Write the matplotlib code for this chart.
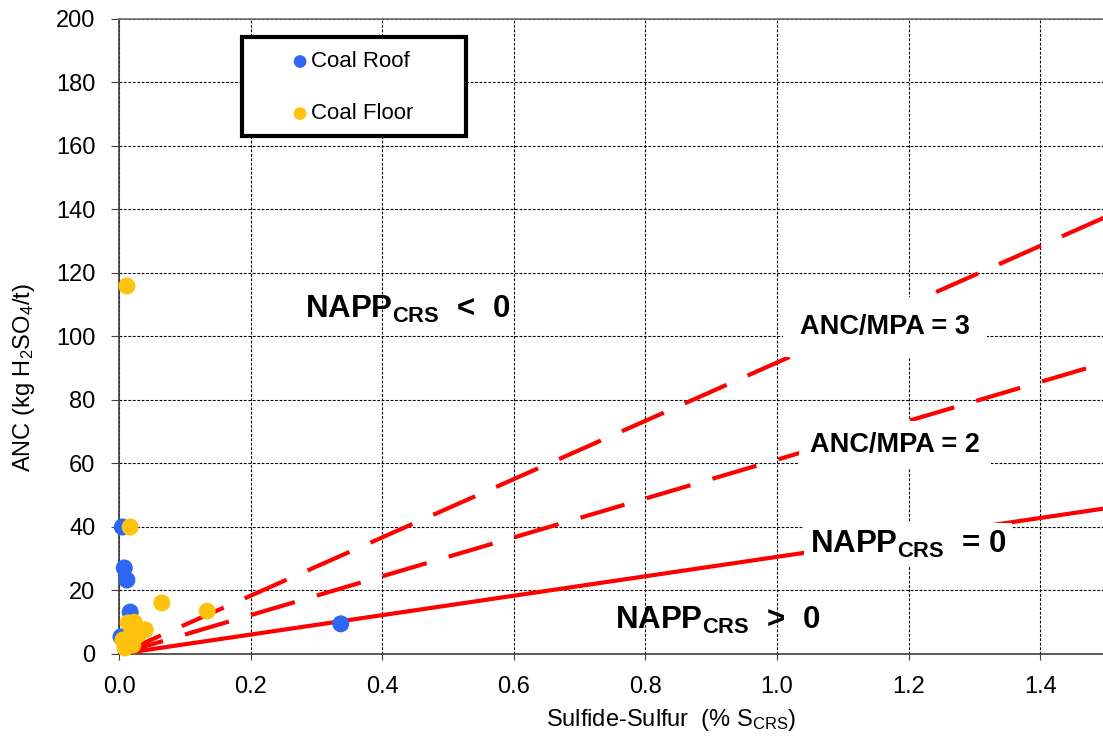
import numpy as np
import matplotlib
matplotlib.use("Agg")
import matplotlib.pyplot as plt
from matplotlib.patches import Rectangle

plt.rcParams['font.family'] = ['Liberation Sans', 'DejaVu Sans']
plt.rcParams['mathtext.fontset'] = 'custom'
plt.rcParams['mathtext.rm'] = 'Liberation Sans'
plt.rcParams['mathtext.it'] = 'Liberation Sans:italic'
plt.rcParams['mathtext.bf'] = 'Liberation Sans:bold'
plt.rcParams['mathtext.default'] = 'regular'

# ---- data ----
roof_S = [0.337, 0.005, 0.008, 0.012, 0.017, 0.003, 0.010]
roof_ANC = [9.5, 40.0, 27.1, 23.3, 13.2, 5.4, 3.0]

floor_S = [0.012, 0.017, 0.065, 0.134, 0.014, 0.040, 0.006, 0.021, 0.009, 0.029, 0.020, 0.023]
floor_ANC = [115.9, 40.0, 16.1, 13.5, 9.8, 7.6, 4.4, 2.8, 1.9, 6.0, 7.6, 10.0]

mpa_factor = 30.6          # kg H2SO4/t per % S
ratios = [1, 2, 3]         # ANC/MPA lines
line_S = [0.0, 1.5]

xticks = [0.0, 0.2, 0.4, 0.6, 0.8, 1.0, 1.2, 1.4]
yticks = list(range(0, 201, 20))

fig = plt.figure(figsize=(11.03, 7.45), dpi=100)
ax = fig.add_axes([0.10789, 0.12215, 0.89483, 0.85235])

ax.set_xlim(0, 1.5)
ax.set_ylim(0, 200)
ax.set_xticks(xticks)
ax.set_yticks(yticks)
ax.set_xticklabels([f"{t:.1f}" for t in xticks])
ax.grid(True, color='black', linestyle=(0, (2.5, 1.5)), linewidth=0.8)
ax.set_axisbelow(True)

for sp in ax.spines.values():
    sp.set_color('#404040')
    sp.set_linewidth(1.2)
ax.spines['top'].set_color('#707070')

ax.tick_params(axis='both', labelsize=17, direction='out', color='#404040')
ax.tick_params(axis='x', length=4, pad=12)
ax.tick_params(axis='y', length=6, pad=11)

# reference lines
styles = {1: '-', 2: (0, (11, 5.5)), 3: (0, (11, 5.5))}
for r in ratios:
    ys = [r * mpa_factor * s for s in line_S]
    ax.plot(line_S, ys, color='#FF0000', lw=3, linestyle=styles[r], zorder=3,
            solid_capstyle='butt', dash_capstyle='butt')

# data
ax.scatter(roof_S, roof_ANC, s=150, color='#2F66F2', edgecolors='none', zorder=4,
           label='Coal Roof', clip_on=False)
ax.scatter(floor_S, floor_ANC, s=150, color='#FFC20E', edgecolors='none', zorder=5,
           label='Coal Floor', clip_on=False)

# region labels
ax.text(0.283, 105.8, r'NAPP$_{\mathbf{CRS}}$  <  0', fontsize=22.5, fontweight='bold', va='baseline', zorder=6)
ax.text(0.754, 8.0, r'NAPP$_{\mathbf{CRS}}$  >  0', fontsize=22.5, fontweight='bold', va='baseline', zorder=6)
ax.text(1.05, 31.8, r'NAPP$_{\mathbf{CRS}}$  = 0', fontsize=22.5, fontweight='bold', va='baseline', zorder=6,
        bbox=dict(facecolor='white', edgecolor='none', pad=4))
ax.text(1.035, 103.0, 'ANC/MPA = 3', fontsize=19.5, fontweight='bold', va='center', zorder=6,
        bbox=dict(facecolor='white', edgecolor='none', pad=12))
ax.text(1.05, 65.8, 'ANC/MPA = 2', fontsize=19.5, fontweight='bold', va='center', zorder=6,
        bbox=dict(facecolor='white', edgecolor='none', pad=8))

# axis labels
ax.set_xlabel(r'Sulfide-Sulfur  (% S$_{CRS}$)', fontsize=17)
ax.xaxis.set_label_coords(0.559, -0.083)
ax.set_ylabel(r'ANC (kg H$_2$SO$_4$/t)', fontsize=17)
ax.yaxis.set_label_coords(-0.083, 0.435)

# legend box
ax.add_patch(Rectangle((0.1246, 0.8157), 0.227, 0.156, transform=ax.transAxes,
                       facecolor='white', edgecolor='black', lw=3, zorder=7))
leg = ax.legend(loc='center left', bbox_to_anchor=(0.1632, 0.8915), frameon=False,
                fontsize=16, borderpad=0, handlelength=0.8, handletextpad=0.1,
                labelspacing=1.4, markerscale=0.75, scatterpoints=1)
leg.set_zorder(8)

fig.savefig('out.png', dpi=100)
